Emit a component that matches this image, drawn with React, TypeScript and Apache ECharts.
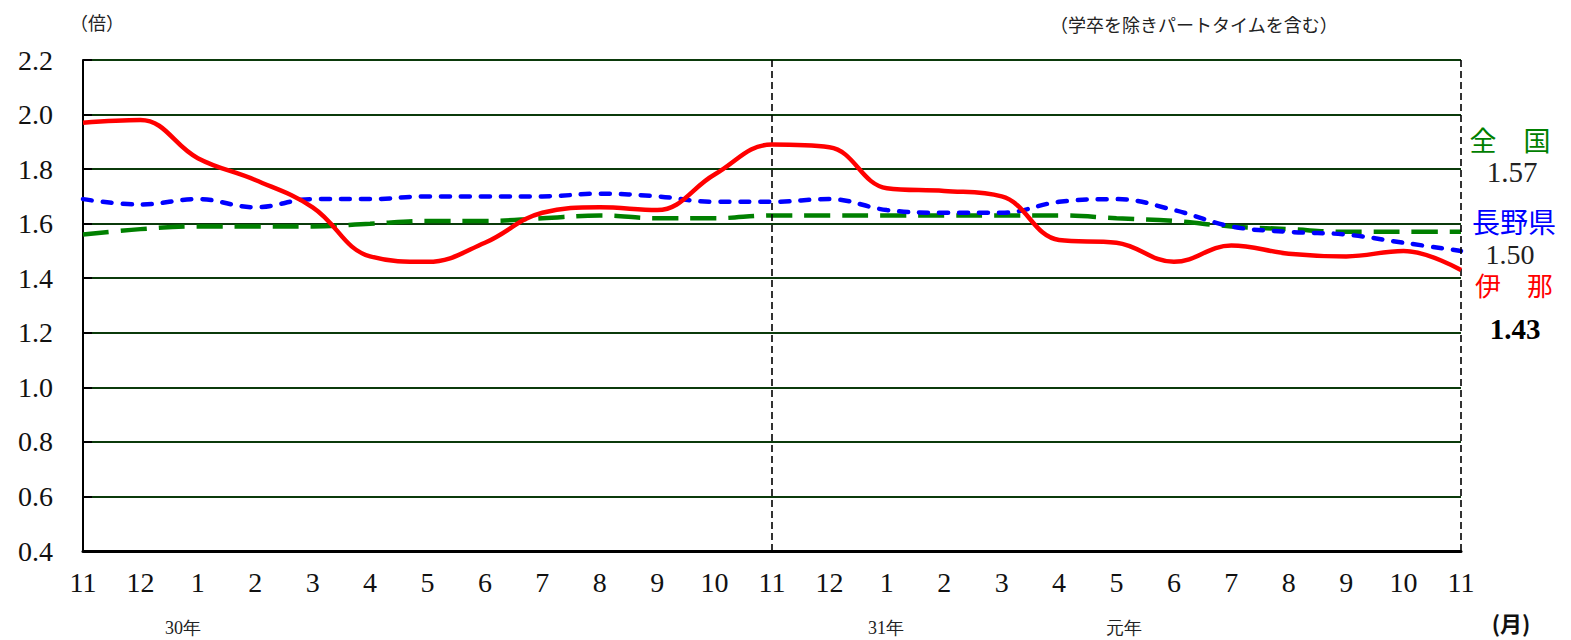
import React, { useEffect, useRef } from "react";
import * as echarts from "echarts";

const monthLabels = ["11", "12", "1", "2", "3", "4", "5", "6", "7", "8", "9", "10", "11", "12", "1", "2", "3", "4", "5", "6", "7", "8", "9", "10", "11"];
const inaValues = [1.97, 1.98, 1.84, 1.76, 1.66, 1.48, 1.46, 1.53, 1.64, 1.66, 1.65, 1.78, 1.89, 1.88, 1.73, 1.72, 1.70, 1.54, 1.53, 1.46, 1.52, 1.49, 1.48, 1.50, 1.43];
const naganoValues = [1.69, 1.67, 1.69, 1.66, 1.69, 1.69, 1.70, 1.70, 1.70, 1.71, 1.70, 1.68, 1.68, 1.69, 1.65, 1.64, 1.64, 1.68, 1.69, 1.65, 1.59, 1.57, 1.56, 1.53, 1.50];
const zenkokuValues = [1.56, 1.58, 1.59, 1.59, 1.59, 1.60, 1.61, 1.61, 1.62, 1.63, 1.62, 1.62, 1.63, 1.63, 1.63, 1.63, 1.63, 1.63, 1.62, 1.61, 1.59, 1.58, 1.57, 1.57, 1.57];
const yAxisMin = 0.4;
const yAxisMax = 2.2;
const yAxisStep = 0.2;
const yearLabels = [
  { text: "30年", x: 183 },
  { text: "31年", x: 886 },
  { text: "元年", x: 1124 },
];

const SERIF = "'Liberation Serif', 'DejaVu Serif', serif";
const SANS = "'Noto Sans CJK JP', 'Noto Sans', sans-serif";

export default function App() {
  const ref = useRef<HTMLDivElement>(null);
  useEffect(() => {
    if (!ref.current) return;
    const chart = echarts.init(ref.current, null, { renderer: "svg" });
    const option: any = {
      animation: false,
      backgroundColor: "#ffffff",
      grid: { left: 83, right: 110, top: 60, bottom: 89, containLabel: false },
      xAxis: {
        type: "category",
        boundaryGap: false,
        data: monthLabels,
        axisLine: { show: true, lineStyle: { color: "#000", width: 3 } },
        axisTick: { show: false },
        splitLine: { show: false },
        axisLabel: {
          show: true,
          interval: 0,
          margin: 17,
          fontFamily: SERIF,
          fontSize: 28,
          color: "#111",
          formatter: (_v: string, i: number) => monthLabels[i],
        },
      },
      yAxis: {
        type: "value",
        min: yAxisMin,
        max: yAxisMax,
        interval: yAxisStep,
        axisLine: { show: true, lineStyle: { color: "#000", width: 2 } },
        axisTick: { show: true, inside: true, length: 9, lineStyle: { color: "#000", width: 2 } },
        splitLine: { show: true, lineStyle: { color: "#0b3a0b", width: 2 } },
        axisLabel: {
          margin: 30,
          fontFamily: SERIF,
          fontSize: 28,
          color: "#111",
          formatter: (v: number) => v.toFixed(1),
        },
      },
      series: [
        {
          name: "全国",
          type: "line",
          data: zenkokuValues,
          smooth: 0.4,
          showSymbol: false,
          symbol: "none",
          lineStyle: { color: "#008000", width: 4.5, type: [26, 12], cap: "butt" },
          markLine: {
            silent: true,
            symbol: ["none", "none"],
            label: { show: false },
            lineStyle: { color: "#000", type: [7, 4], width: 1.6 },
            data: [{ xAxis: 12 }, { xAxis: 24 }],
          },
          z: 3,
        },
        {
          name: "長野県",
          type: "line",
          data: naganoValues,
          smooth: 0.4,
          showSymbol: false,
          symbol: "none",
          lineStyle: { color: "#0000ff", width: 4.5, type: [9, 11], cap: "round" },
          z: 4,
        },
        {
          name: "伊那",
          type: "line",
          data: inaValues,
          smooth: 0.4,
          showSymbol: false,
          symbol: "none",
          lineStyle: { color: "#ff0000", width: 4.5, type: "solid" },
          z: 5,
        },
      ],
      graphic: [
        { type: "text", x: 97, y: 22, style: { text: "（倍）", font: `18px ${SANS}`, fill: "#222", align: "center", verticalAlign: "middle" } },
        { type: "text", left: 1050, top: 15, style: { text: "（学卒を除きパートタイムを含む）", font: `18px ${SANS}`, fill: "#222" } },
        ...yearLabels.map((y) => ({
          type: "text",
          x: y.x,
          y: 628,
          style: { text: y.text, font: `18px ${SERIF}`, fill: "#222", align: "center", verticalAlign: "middle" },
        })),
        { type: "text", x: 1511, y: 622, style: { text: "(月)", font: `bold 22px ${SANS}`, fill: "#111", align: "center", verticalAlign: "middle" } },
        { type: "text", x: 1510, y: 139, style: { text: "全　国", font: `27px ${SANS}`, fill: "#008000", align: "center", verticalAlign: "middle" } },
        { type: "text", x: 1512, y: 172, style: { text: zenkokuValues[zenkokuValues.length - 1].toFixed(2), font: `29px ${SERIF}`, fill: "#222", align: "center", verticalAlign: "middle" } },
        { type: "text", x: 1514, y: 221, style: { text: "長野県", font: `28px ${SANS}`, fill: "#0000ff", align: "center", verticalAlign: "middle" } },
        { type: "text", x: 1510, y: 254, style: { text: naganoValues[naganoValues.length - 1].toFixed(2), font: `28px ${SERIF}`, fill: "#222", align: "center", verticalAlign: "middle" } },
        { type: "text", x: 1514, y: 284, style: { text: "伊　那", font: `26px ${SANS}`, fill: "#ff0000", align: "center", verticalAlign: "middle" } },
        { type: "text", x: 1515, y: 329, style: { text: inaValues[inaValues.length - 1].toFixed(2), font: `bold 29px ${SERIF}`, fill: "#000", align: "center", verticalAlign: "middle" } },
      ],
    };
    chart.setOption(option);
    return () => chart.dispose();
  }, []);
  return <div ref={ref} style={{ position: "absolute", left: 0, top: 0, width: 1571, height: 640 }} />;
}
